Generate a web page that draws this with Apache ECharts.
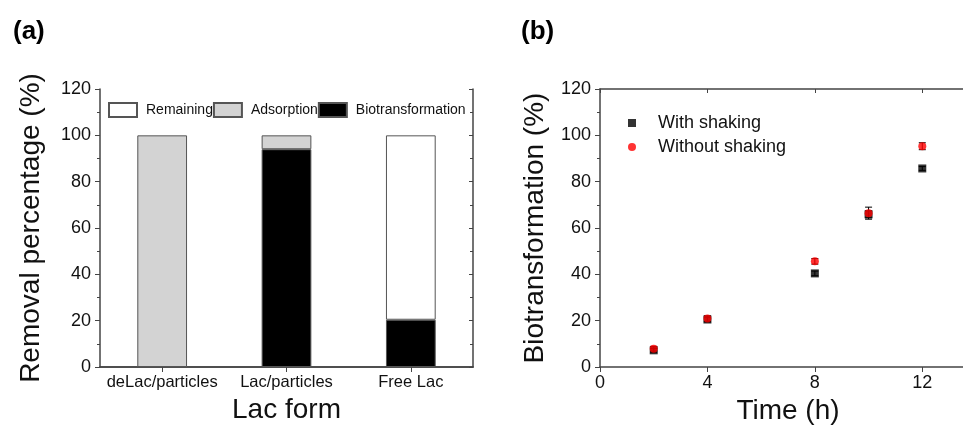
<!DOCTYPE html>
<html>
<head>
<meta charset="utf-8">
<script src="https://cdn.jsdelivr.net/npm/echarts@6/dist/echarts.min.js"></script>
<style>
html,body{margin:0;padding:0;background:#fff;}
#chart{width:963px;height:427px;}
</style>
</head>
<body>
<div id="chart"></div>
<script>
// ---- Panel (a) data ----
var lacForms = ['deLac/particles', 'Lac/particles', 'Free Lac'];
var biotransformation = [null, 94, 20.4];
var adsorption = [100, 6, null];
var remaining = [null, null, 79.6];
var yTicksA = [0, 20, 40, 60, 80, 100, 120];

// ---- Panel (b) data ----
var times = [2, 4, 8, 10, 12];
var withShaking = [7.2, 20.5, 40.4, 65.9, 85.7];
var withShakingErr = [0.8, 1.0, 1.0, 1.5, 0.8];
var withoutShaking = [7.9, 20.9, 45.6, 66.4, 95.3];
var withoutShakingErr = [1.0, 1.2, 1.2, 2.6, 1.5];
var xTicksB = [0, 4, 8, 12];

var FONT = 'Liberation Sans';
var AX = '#444';

var chart = echarts.init(document.getElementById('chart'));

function errData(xs, ys, es) {
  return xs.map(function (x, i) { return [x, ys[i] - es[i], ys[i] + es[i]]; });
}
function pts(xs, ys) {
  return xs.map(function (x, i) { return [x, ys[i]]; });
}
function errRender(params, api) {
  var x = api.value(0), lo = api.value(1), hi = api.value(2);
  var pHi = api.coord([x, hi]);
  var pLo = api.coord([x, lo]);
  var w = 3.5;
  var st = { stroke: '#000', lineWidth: 1 };
  return {
    type: 'group',
    children: [
      { type: 'line', shape: { x1: pHi[0], y1: pHi[1], x2: pLo[0], y2: pLo[1] }, style: st },
      { type: 'line', shape: { x1: pHi[0] - w, y1: pHi[1], x2: pHi[0] + w, y2: pHi[1] }, style: st },
      { type: 'line', shape: { x1: pLo[0] - w, y1: pLo[1], x2: pLo[0] + w, y2: pLo[1] }, style: st }
    ]
  };
}

var axisLine = { show: true, lineStyle: { color: AX, width: 1.5 } };

var option = {
  animation: false,
  backgroundColor: '#fff',
  title: [
    { text: '(a)', left: 8, top: 14, textStyle: { fontFamily: FONT, fontWeight: 'bold', fontSize: 26, color: '#000' } },
    { text: '(b)', left: 516, top: 14, textStyle: { fontFamily: FONT, fontWeight: 'bold', fontSize: 26, color: '#000' } }
  ],
  legend: [
    {
      data: ['Remaining', 'Adsorption', 'Biotransformation'],
      left: 108, top: 102, padding: 0,
      itemWidth: 28, itemHeight: 14, itemGap: 0,
      icon: 'rect',
      textStyle: { fontFamily: FONT, fontSize: 14, color: '#111', padding: [0, 0, 0, 4] }
    },
    {
      data: ['With shaking', 'Without shaking'],
      orient: 'vertical',
      left: 628, top: 114, padding: 0,
      itemWidth: 8, itemHeight: 8, itemGap: 6,
      textStyle: { fontFamily: FONT, fontSize: 18, color: '#111', padding: [0, 0, 0, 17] }
    }
  ],
  grid: [
    { left: 100, top: 89, width: 373, height: 278, outerBoundsMode: 'none' },
    { left: 600, top: 89, width: 376, height: 278, outerBoundsMode: 'none' }
  ],
  xAxis: [
    {
      type: 'category', gridIndex: 0, data: lacForms,
      name: 'Lac form', nameLocation: 'middle', nameGap: 28,
      nameTextStyle: { fontFamily: FONT, fontSize: 28, color: '#111' },
      axisLine: axisLine,
      axisTick: { show: true, alignWithLabel: true, length: 5, lineStyle: { color: AX } },
      axisLabel: { fontFamily: FONT, fontSize: 16.5, color: '#111', margin: 7, interval: 0 },
      splitLine: { show: false }
    },
    {
      type: 'category', gridIndex: 0, data: lacForms, position: 'top',
      axisLine: axisLine,
      axisTick: { show: true, inside: true, alignWithLabel: true, length: 4, lineStyle: { color: AX } },
      axisLabel: { show: false }, splitLine: { show: false }
    },
    {
      type: 'value', gridIndex: 1, min: 0, max: 14, interval: 4,
      name: 'Time (h)', nameLocation: 'middle', nameGap: 28,
      nameTextStyle: { fontFamily: FONT, fontSize: 28, color: '#111' },
      axisLine: axisLine,
      axisTick: { show: true, length: 5, lineStyle: { color: AX } },
      axisLabel: {
        fontFamily: FONT, fontSize: 18, color: '#111', margin: 7,
        formatter: function (v) { return xTicksB.indexOf(v) >= 0 ? String(v) : ''; }
      },
      splitLine: { show: false }
    },
    {
      type: 'value', gridIndex: 1, min: 0, max: 14, interval: 4, position: 'top',
      axisLine: axisLine,
      axisTick: { show: true, inside: true, length: 4, lineStyle: { color: AX } },
      axisLabel: { show: false }, splitLine: { show: false }
    }
  ],
  yAxis: [
    {
      type: 'value', gridIndex: 0, min: 0, max: 120, interval: 20,
      name: 'Removal percentage (%)', nameLocation: 'middle', nameGap: 55,
      nameTextStyle: { fontFamily: FONT, fontSize: 28, color: '#111' },
      axisLine: axisLine,
      axisTick: { show: true, length: 5, lineStyle: { color: AX } },
      minorTick: { show: true, splitNumber: 2, length: 3, lineStyle: { color: AX } },
      axisLabel: {
        fontFamily: FONT, fontSize: 18, color: '#111', margin: 9,
        formatter: function (v) { return yTicksA.indexOf(v) >= 0 ? String(v) : ''; }
      },
      splitLine: { show: false }
    },
    {
      type: 'value', gridIndex: 0, min: 0, max: 120, interval: 20, position: 'right',
      axisLine: axisLine,
      axisTick: { show: true, inside: true, length: 4, lineStyle: { color: AX } },
      minorTick: { show: true, splitNumber: 2, length: 3, lineStyle: { color: AX } },
      axisLabel: { show: false }, splitLine: { show: false }
    },
    {
      type: 'value', gridIndex: 1, min: 0, max: 120, interval: 20,
      name: 'Biotransformation (%)', nameLocation: 'middle', nameGap: 51,
      nameTextStyle: { fontFamily: FONT, fontSize: 28, color: '#111' },
      axisLine: axisLine,
      axisTick: { show: true, length: 5, lineStyle: { color: AX } },
      minorTick: { show: true, splitNumber: 2, length: 3, lineStyle: { color: AX } },
      axisLabel: {
        fontFamily: FONT, fontSize: 18, color: '#111', margin: 9,
        formatter: function (v) { return yTicksA.indexOf(v) >= 0 ? String(v) : ''; }
      },
      splitLine: { show: false }
    }
  ],
  series: [
    {
      name: 'Biotransformation', type: 'bar', stack: 'a', xAxisIndex: 0, yAxisIndex: 0,
      barWidth: '40%', data: biotransformation,
      itemStyle: { color: '#000', borderColor: '#555', borderWidth: 1 }
    },
    {
      name: 'Adsorption', type: 'bar', stack: 'a', xAxisIndex: 0, yAxisIndex: 0,
      barWidth: '40%', data: adsorption,
      itemStyle: { color: '#d3d3d3', borderColor: '#555', borderWidth: 1 }
    },
    {
      name: 'Remaining', type: 'bar', stack: 'a', xAxisIndex: 0, yAxisIndex: 0,
      barWidth: '40%', data: remaining,
      itemStyle: { color: '#fff', borderColor: '#555', borderWidth: 1 }
    },
    {
      type: 'custom', xAxisIndex: 2, yAxisIndex: 2, z: 1,
      renderItem: errRender, encode: { x: 0, y: [1, 2] },
      data: errData(times, withShaking, withShakingErr)
    },
    {
      type: 'custom', xAxisIndex: 2, yAxisIndex: 2, z: 1,
      renderItem: errRender, encode: { x: 0, y: [1, 2] },
      data: errData(times, withoutShaking, withoutShakingErr)
    },
    {
      name: 'With shaking', type: 'scatter', xAxisIndex: 2, yAxisIndex: 2, z: 3,
      symbol: 'rect', symbolSize: 8,
      itemStyle: { color: '#000' },
      data: pts(times, withShaking)
    },
    {
      name: 'Without shaking', type: 'scatter', xAxisIndex: 2, yAxisIndex: 2, z: 4,
      symbol: 'circle', symbolSize: 8,
      itemStyle: { color: '#f00' },
      data: pts(times, withoutShaking)
    }
  ]
};
chart.setOption(option);
</script>
</body>
</html>
